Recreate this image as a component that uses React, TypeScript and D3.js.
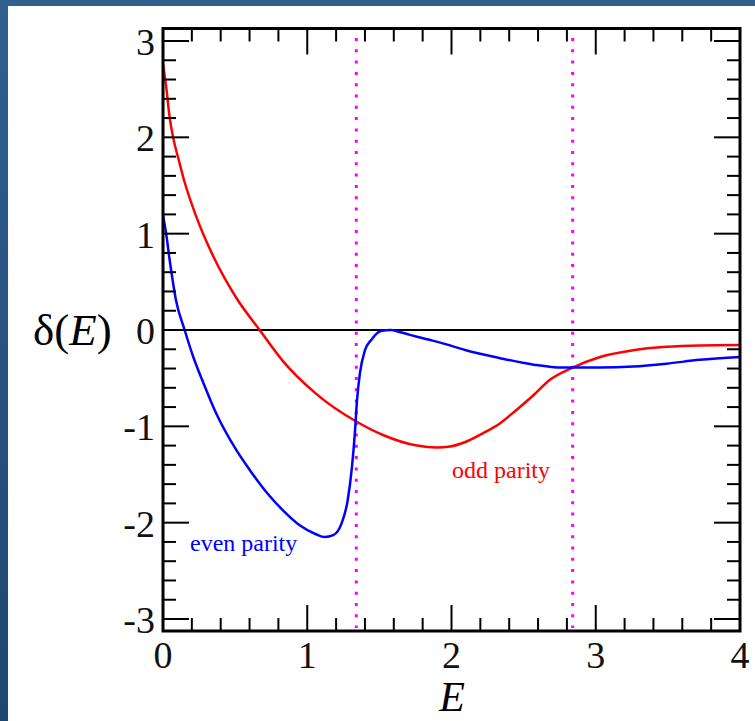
import React from "react";
import * as d3 from "d3";

const evenParity: [number, number][] = [
  [0, 1.19], [0.02, 1.02], [0.045, 0.74], [0.09, 0.31], [0.15, 0], [0.21, -0.28],
  [0.28, -0.55], [0.37, -0.87], [0.51, -1.25], [0.6, -1.45], [0.72, -1.69],
  [0.83, -1.87], [0.95, -2.03], [1.06, -2.12], [1.12, -2.15], [1.18, -2.13],
  [1.24, -2.0], [1.28, -1.77], [1.31, -1.42], [1.33, -1.07], [1.345, -0.73],
  [1.365, -0.45], [1.4, -0.21], [1.445, -0.1], [1.51, -0.01], [1.58, 0.0],
  [1.64, -0.02], [1.76, -0.07], [1.87, -0.11], [1.99, -0.16], [2.1, -0.21],
  [2.33, -0.29], [2.57, -0.36], [2.77, -0.39], [3.03, -0.39], [3.26, -0.38],
  [3.49, -0.35], [3.72, -0.31], [4.0, -0.28],
];

const oddParity: [number, number][] = [
  [0, 2.76], [0.02, 2.55], [0.045, 2.22], [0.07, 2.0], [0.11, 1.76],
  [0.145, 1.56], [0.23, 1.18], [0.35, 0.76], [0.51, 0.33], [0.67, 0], [0.83, -0.32],
  [1.06, -0.66], [1.34, -0.95], [1.525, -1.09], [1.76, -1.2], [1.9, -1.22],
  [1.99, -1.21], [2.1, -1.16], [2.22, -1.07], [2.335, -0.97], [2.45, -0.83],
  [2.57, -0.675], [2.68, -0.52], [2.84, -0.39], [3.03, -0.28], [3.26, -0.21],
  [3.49, -0.175], [3.72, -0.16], [4.0, -0.155],
];

const thresholds = [1.34, 2.84];
const xMajor = [0, 1, 2, 3, 4];
const yMajor = [-3, -2, -1, 0, 1, 2, 3];

const W = 755;
const H = 721;

export default function App() {
  const x = d3.scaleLinear().domain([0, 4]).range([163, 740]);
  const y = d3.scaleLinear().domain([-3, 3]).range([619, 41]);
  const top = 28.5;
  const bottom = 631;
  const left = x(0);
  const right = x(4);

  const line = d3
    .line<[number, number]>()
    .x((d) => x(d[0]))
    .y((d) => y(d[1]))
    .curve(d3.curveMonotoneX);

  const xMinor = d3.range(0, 4.0001, 0.2).filter((v) => Math.abs(v - Math.round(v)) > 1e-6);
  const yMinor = d3.range(-3.2, 3.2001, 0.2).filter((v) => Math.abs(v - Math.round(v)) > 1e-6 && y(v) > top && y(v) < bottom);

  const major = 26;
  const minor = 13;
  const font = "'Liberation Serif', 'Times New Roman', serif";

  return (
    <div style={{ position: "absolute", left: 0, top: 0 }}>
      <svg width={W} height={H} style={{ display: "block" }}>
        <defs>
          <linearGradient id="bg" x1="0" y1="0" x2="0" y2="1">
            <stop offset="0" stopColor="#2f6090" />
            <stop offset="1" stopColor="#1f4670" />
          </linearGradient>
          <clipPath id="plot">
            <rect x={left} y={top} width={right - left} height={bottom - top} />
          </clipPath>
        </defs>
        <rect x={0} y={0} width={W} height={H} fill="url(#bg)" />
        <rect x={8} y={6} width={W - 8} height={H - 6} fill="#ffffff" />

        {/* zero line */}
        <line x1={left} x2={right} y1={y(0)} y2={y(0)} stroke="#000" strokeWidth={2} />

        {/* threshold dotted lines */}
        {thresholds.map((t) => (
          <line
            key={t}
            x1={x(t)}
            x2={x(t)}
            y1={38}
            y2={628}
            stroke="#ff00ff"
            strokeWidth={3}
            strokeDasharray="3 8.3"
          />
        ))}

        <g clipPath="url(#plot)">
          <path d={line(oddParity) || ""} fill="none" stroke="#ff0000" strokeWidth={2.5} />
          <path d={line(evenParity) || ""} fill="none" stroke="#0000ff" strokeWidth={2.5} />
        </g>

        {/* ticks */}
        <g stroke="#000" strokeWidth={2}>
          {xMajor.map((v) => (
            <g key={"xM" + v}>
              <line x1={x(v)} x2={x(v)} y1={bottom} y2={bottom - major} />
              <line x1={x(v)} x2={x(v)} y1={top} y2={top + major} />
            </g>
          ))}
          {xMinor.map((v) => (
            <g key={"xm" + v}>
              <line x1={x(v)} x2={x(v)} y1={bottom} y2={bottom - minor} />
              <line x1={x(v)} x2={x(v)} y1={top} y2={top + minor} />
            </g>
          ))}
          {yMajor.map((v) => (
            <g key={"yM" + v}>
              <line x1={left} x2={left + major} y1={y(v)} y2={y(v)} />
              <line x1={right} x2={right - major} y1={y(v)} y2={y(v)} />
            </g>
          ))}
          {yMinor.map((v) => (
            <g key={"ym" + v}>
              <line x1={left} x2={left + minor} y1={y(v)} y2={y(v)} />
              <line x1={right} x2={right - minor} y1={y(v)} y2={y(v)} />
            </g>
          ))}
        </g>

        {/* frame */}
        <rect
          x={left}
          y={top}
          width={right - left}
          height={bottom - top}
          fill="none"
          stroke="#000"
          strokeWidth={3}
        />

        {/* tick labels */}
        <g fontFamily={font} fontSize={38} fill="#111">
          {xMajor.map((v) => (
            <text key={"xl" + v} x={x(v)} y={668} textAnchor="middle">
              {String(v)}
            </text>
          ))}
          {yMajor.map((v) => (
            <text key={"yl" + v} x={155} y={y(v) + 14} textAnchor="end">
              {v < 0 ? "-" + Math.abs(v) : String(v)}
            </text>
          ))}
        </g>

        {/* axis labels */}
        <text x={452} y={711} textAnchor="middle" fontFamily={font} fontSize={42} fontStyle="italic" fill="#000">
          E
        </text>
        <text x={33} y={345} fontFamily={font} fontSize={45} fill="#000">
          δ(<tspan fontStyle="italic">E</tspan>)
        </text>

        {/* series labels */}
        <text x={190} y={551} fontFamily={font} fontSize={24} fill="#0000ff">
          even parity
        </text>
        <text x={452} y={478} fontFamily={font} fontSize={24} fill="#ff0000">
          odd parity
        </text>
      </svg>
    </div>
  );
}
